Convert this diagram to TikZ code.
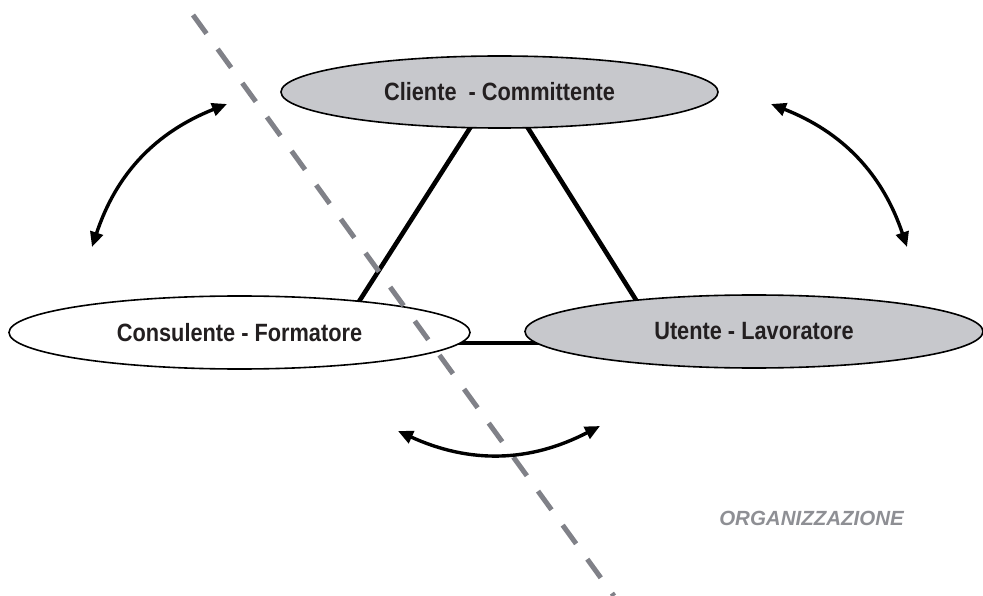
\documentclass[tikz,border=0pt]{standalone}
\usepackage{fontspec}
\setmainfont{Liberation Sans}
\newfontfamily\narrowfont[FakeStretch=0.87]{Liberation Sans}
\usetikzlibrary{shapes.geometric,arrows.meta}
\definecolor{ellgray}{RGB}{199,200,204}
\definecolor{dashgray}{RGB}{128,129,136}
\definecolor{txtgray}{RGB}{142,143,148}
\definecolor{txtdark}{RGB}{35,31,32}
\begin{document}
\begin{tikzpicture}[x=1pt,y=-1pt,
  role/.style={ellipse,draw=black,line width=1.6pt,inner sep=0pt,
    font=\narrowfont\bfseries\fontsize{25}{29}\selectfont,text=txtdark},
  link/.style={line width=4.6pt},
  swap/.style={line width=3.4pt,{Triangle[length=15pt,width=13pt]}-{Triangle[length=15pt,width=13pt]}},
  divider/.style={dashgray,line width=5pt,dash pattern=on 23pt off 19pt}]
\useasboundingbox (0,0) rectangle (983,596);
% triangle links (behind the ellipses)
\coordinate (lt) at (476.6,117.7);
\coordinate (lb) at (353.4,310.3);
\coordinate (rt) at (521.5,117.7);
\coordinate (rb) at (642.5,310.3);
\coordinate (bl) at (440,343);
\coordinate (br) at (560,343);
\draw[link] (lt) -- (lb);
\draw[link] (rt) -- (rb);
\draw[link] (bl) -- (br);
% roles
\node[role,fill=ellgray,minimum width=437pt,minimum height=72pt] (cliente) at (499.5,92) {Cliente\ \ - Committente};
\node[role,fill=white,minimum width=461pt,minimum height=73pt] (consulente) at (239.5,332.5) {Consulente - Formatore};
\node[role,fill=ellgray,minimum width=458pt,minimum height=73pt] (utente) at (754,331.5) {Utente - Lavoratore};
% divider
\coordinate (d1) at (193,15);
\coordinate (d2) at (614,596);
\draw[divider] (d1) -- (d2);
% exchange arrows
\coordinate (a1) at (92,247);
\coordinate (a2) at (227,104);
\coordinate (b1) at (771,104);
\coordinate (b2) at (907,247);
\coordinate (c1) at (398,431);
\coordinate (c2) at (600,426);
\draw[swap] (a1) to[bend left=25] (a2);
\draw[swap] (b1) to[bend left=25] (b2);
\draw[swap] (c1) to[bend right=26] (c2);
% label
\node[font=\bfseries\itshape\fontsize{20.5}{24}\selectfont,text=txtgray] (org) at (811.5,518.5) {ORGANIZZAZIONE};
\end{tikzpicture}
\end{document}
